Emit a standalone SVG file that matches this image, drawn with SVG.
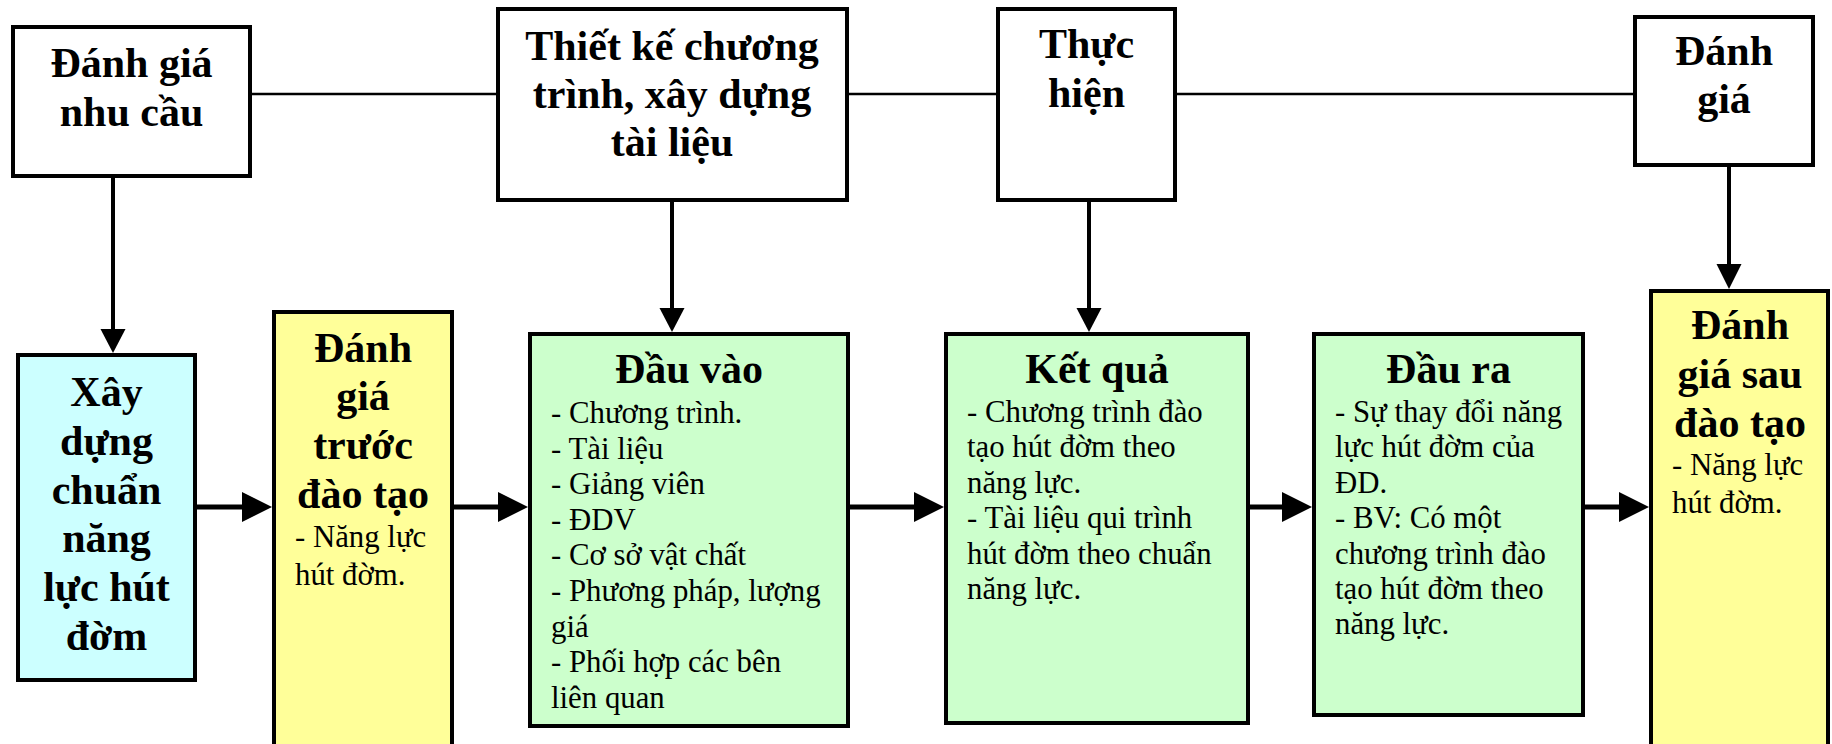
<svg xmlns="http://www.w3.org/2000/svg" width="1832" height="744" viewBox="0 0 1832 744">
  <style>
    .box { stroke: #000; stroke-width: 4; }
    .plain { fill: #fff; }
    .cyan { fill: #ccffff; }
    .yellow { fill: #ffff99; }
    .green { fill: #ccffcc; }
    .head { font-family: "Liberation Serif", "Times New Roman", serif; font-weight: bold; font-size: 42px; fill: #000; text-anchor: middle; }
    .body { font-family: "Liberation Serif", "Times New Roman", serif; font-size: 30.8px; fill: #000; }
    .thin { stroke: #000; stroke-width: 2.5; fill: none; }
    .down { stroke: #000; stroke-width: 4; fill: none; }
    .right { stroke: #000; stroke-width: 5; fill: none; }
    .tip { fill: #000; }
  </style>

  <!-- top row links and arrows -->
  <g id="connectors">
    <line class="thin" x1="252" y1="94" x2="496" y2="94"/>
    <line class="thin" x1="849" y1="94" x2="996" y2="94"/>
    <line class="thin" x1="1177" y1="94" x2="1633" y2="94"/>

    <!-- vertical arrows -->
    <line class="down" x1="113" y1="178" x2="113" y2="332"/>
    <polygon class="tip" points="100.5,329 125.5,329 113,353"/>
    <line class="down" x1="672" y1="202" x2="672" y2="310"/>
    <polygon class="tip" points="659.5,308 684.5,308 672,332"/>
    <line class="down" x1="1089" y1="202" x2="1089" y2="310"/>
    <polygon class="tip" points="1076.5,308 1101.5,308 1089,332"/>
    <line class="down" x1="1729" y1="160" x2="1729" y2="267"/>
    <polygon class="tip" points="1716.5,264 1741.5,264 1729,289"/>

    <!-- horizontal arrows -->
    <line class="right" x1="195" y1="507" x2="245" y2="507"/>
    <polygon class="tip" points="242,492 272,507 242,522"/>
    <line class="right" x1="452" y1="507" x2="501" y2="507"/>
    <polygon class="tip" points="498,492 528,507 498,522"/>
    <line class="right" x1="848" y1="507" x2="917" y2="507"/>
    <polygon class="tip" points="914,492 944,507 914,522"/>
    <line class="right" x1="1248" y1="507" x2="1285" y2="507"/>
    <polygon class="tip" points="1282,492 1312,507 1282,522"/>
    <line class="right" x1="1583" y1="507" x2="1622" y2="507"/>
    <polygon class="tip" points="1619,492 1649,507 1619,522"/>
  </g>

  <g id="needs">
    <rect class="box plain" x="13" y="27" width="237" height="149"/>
    <text class="head" x="131.5"><tspan x="131.5" y="77">Đánh giá</tspan><tspan x="131.5" y="126">nhu cầu</tspan></text>
  </g>

  <g id="design">
    <rect class="box plain" x="498" y="9" width="349" height="191"/>
    <text class="head"><tspan x="672" y="60">Thiết kế chương</tspan><tspan x="672" y="108">trình, xây dựng</tspan><tspan x="672" y="156">tài liệu</tspan></text>
  </g>

  <g id="implement">
    <rect class="box plain" x="998" y="9" width="177" height="191"/>
    <text class="head"><tspan x="1086.5" y="58">Thực</tspan><tspan x="1086.5" y="107">hiện</tspan></text>
  </g>

  <g id="evaluate">
    <rect class="box plain" x="1635" y="17" width="178" height="148"/>
    <text class="head"><tspan x="1724" y="65">Đánh</tspan><tspan x="1724" y="113">giá</tspan></text>
  </g>

  <g id="standard">
    <rect class="box cyan" x="18" y="355" width="177" height="325"/>
    <text class="head"><tspan x="106.5" y="406">Xây</tspan><tspan x="106.5" y="455">dựng</tspan><tspan x="106.5" y="504">chuẩn</tspan><tspan x="106.5" y="552">năng</tspan><tspan x="106.5" y="601">lực hút</tspan><tspan x="106.5" y="650">đờm</tspan></text>
  </g>

  <g id="pre-test">
    <rect class="box yellow" x="274" y="312" width="178" height="440"/>
    <text class="head"><tspan x="363" y="362">Đánh</tspan><tspan x="363" y="410">giá</tspan><tspan x="363" y="459">trước</tspan><tspan x="363" y="508">đào tạo</tspan></text>
    <text class="body"><tspan x="295" y="547">- Năng lực</tspan><tspan x="295" y="585">hút đờm.</tspan></text>
  </g>

  <g id="inputs">
    <rect class="box green" x="530" y="334" width="318" height="392"/>
    <text class="head" x="689" y="383">Đầu vào</text>
    <text class="body">
      <tspan x="551" y="423">- Chương trình.</tspan>
      <tspan x="551" y="458.6">- Tài liệu</tspan>
      <tspan x="551" y="494.2">- Giảng viên</tspan>
      <tspan x="551" y="529.8">- ĐDV</tspan>
      <tspan x="551" y="565.4">- Cơ sở vật chất</tspan>
      <tspan x="551" y="601">- Phương pháp, lượng</tspan>
      <tspan x="551" y="636.6">giá</tspan>
      <tspan x="551" y="672.2">- Phối hợp các bên</tspan>
      <tspan x="551" y="707.8">liên quan</tspan>
    </text>
  </g>

  <g id="results">
    <rect class="box green" x="946" y="334" width="302" height="389"/>
    <text class="head" x="1097" y="383">Kết quả</text>
    <text class="body">
      <tspan x="967" y="422">- Chương trình đào</tspan>
      <tspan x="967" y="457.4">tạo hút đờm theo</tspan>
      <tspan x="967" y="492.8">năng lực.</tspan>
      <tspan x="967" y="528.2">- Tài liệu qui trình</tspan>
      <tspan x="967" y="563.6">hút đờm theo chuẩn</tspan>
      <tspan x="967" y="599">năng lực.</tspan>
    </text>
  </g>

  <g id="outputs">
    <rect class="box green" x="1314" y="334" width="269" height="381"/>
    <text class="head" x="1448.5" y="383">Đầu ra</text>
    <text class="body">
      <tspan x="1335" y="422">- Sự thay đổi năng</tspan>
      <tspan x="1335" y="457.4">lực hút đờm của</tspan>
      <tspan x="1335" y="492.8">ĐD.</tspan>
      <tspan x="1335" y="528.2">- BV: Có một</tspan>
      <tspan x="1335" y="563.6">chương trình đào</tspan>
      <tspan x="1335" y="599">tạo hút đờm theo</tspan>
      <tspan x="1335" y="634.4">năng lực.</tspan>
    </text>
  </g>

  <g id="post-test">
    <rect class="box yellow" x="1651" y="291" width="177" height="460"/>
    <text class="head"><tspan x="1740" y="339">Đánh</tspan><tspan x="1740" y="388">giá sau</tspan><tspan x="1740" y="437">đào tạo</tspan></text>
    <text class="body"><tspan x="1672" y="475">- Năng lực</tspan><tspan x="1672" y="513">hút đờm.</tspan></text>
  </g>
</svg>
